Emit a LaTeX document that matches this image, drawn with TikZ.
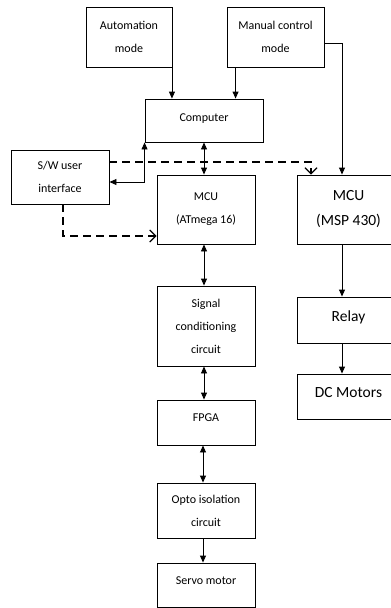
\documentclass[tikz,border=0pt]{standalone}
\usepackage{fontspec}
\setmainfont{Carlito}
\usetikzlibrary{arrows.meta,calc}
\begin{document}
\begin{tikzpicture}[x=1pt,y=-1pt,
  box/.style={draw,line width=0.9pt,inner sep=0pt,align=center,font=\fontsize{12}{23}\selectfont},
  bigbox/.style={box,font=\fontsize{15.5}{25}\selectfont},
  up/.style={text depth=#1},
  arr/.style={line width=0.9pt,-{Triangle[length=7pt,width=6pt]}},
  darr/.style={line width=0.9pt,{Triangle[length=7pt,width=6pt]}-{Triangle[length=7pt,width=6pt]}},
  dsh/.style={line width=1.8pt,dash pattern=on 8pt off 5pt,-{Straight Barb[length=6pt,width=12pt,line width=1.2pt]}}]
\useasboundingbox (0,0) rectangle (391,608);
\clip (0,0) rectangle (391,608);
\node[box,minimum width=86pt,minimum height=60pt] (auto) at (129,37) {Automation\\mode};
\node[box,minimum width=97pt,minimum height=60pt] (man) at (275.5,37) {Manual control\\mode};
\node[box,up=6pt,minimum width=118pt,minimum height=43pt] (comp) at (204,120.5) {Computer};
\node[box,minimum width=98pt,minimum height=54pt] (sw) at (60,177) {S/W user\\interface};
\node[box,minimum width=98pt,minimum height=69pt] (atm) at (206,209.5) {MCU\\(ATmega 16)};
\node[bigbox,minimum width=103pt,minimum height=69pt] (msp) at (348.5,209.5) {MCU\\(MSP 430)};
\node[box,minimum width=98pt,minimum height=80pt] (sig) at (206,326) {Signal\\conditioning\\circuit};
\node[box,up=9pt,minimum width=98pt,minimum height=45pt] (fpga) at (206,422.5) {FPGA};
\node[box,minimum width=98pt,minimum height=55pt] (opto) at (206,510.5) {Opto isolation\\circuit};
\node[box,up=9pt,minimum width=98pt,minimum height=44pt] (servo) at (206,585) {Servo motor};
\node[bigbox,up=8pt,minimum width=103pt,minimum height=46pt] (relay) at (348.5,320) {Relay};
\node[bigbox,up=8pt,minimum width=103pt,minimum height=45pt] (dc) at (348.5,396.5) {DC Motors};
% arrows
\coordinate (a1) at ($(auto.south east)+(-0.5,0)$);
\draw[arr] (a1) -- (a1 |- comp.north);
\coordinate (m1) at ($(man.south west)+(9,0)$);
\draw[arr] (m1) -- (m1 |- comp.north);
\coordinate (m2) at (man.east |- 0,43);
\coordinate (m3) at (342,43);
\draw[arr] (m2) -- (m3) -- (m3 |- msp.north);
\draw[darr] (comp.south) -- (comp.south |- atm.north);
\coordinate (s1) at (sw.east |- 0,182);
\draw[darr] (comp.south west) |- (s1);
\coordinate (s2) at (sw.east |- 0,162);
\coordinate (s3) at (311,162);
\draw[dsh] (s2) -- (s3) -- (s3 |- msp.north);
\coordinate (s4) at (63,204);
\coordinate (s5) at (atm.west |- 0,236);
\draw[dsh] (s4) |- (s5);
\draw[darr] (atm.south -| 204,0) -- (sig.north -| 204,0);
\draw[darr] (sig.south -| 204,0) -- (fpga.north -| 204,0);
\draw[darr] (fpga.south -| 203,0) -- (opto.north -| 203,0);
\draw[arr] (opto.south -| 203,0) -- (servo.north -| 203,0);
\draw[arr] (msp.south -| 342,0) -- (relay.north -| 342,0);
\draw[arr] (relay.south -| 342,0) -- (dc.north -| 342,0);
\end{tikzpicture}
\end{document}
